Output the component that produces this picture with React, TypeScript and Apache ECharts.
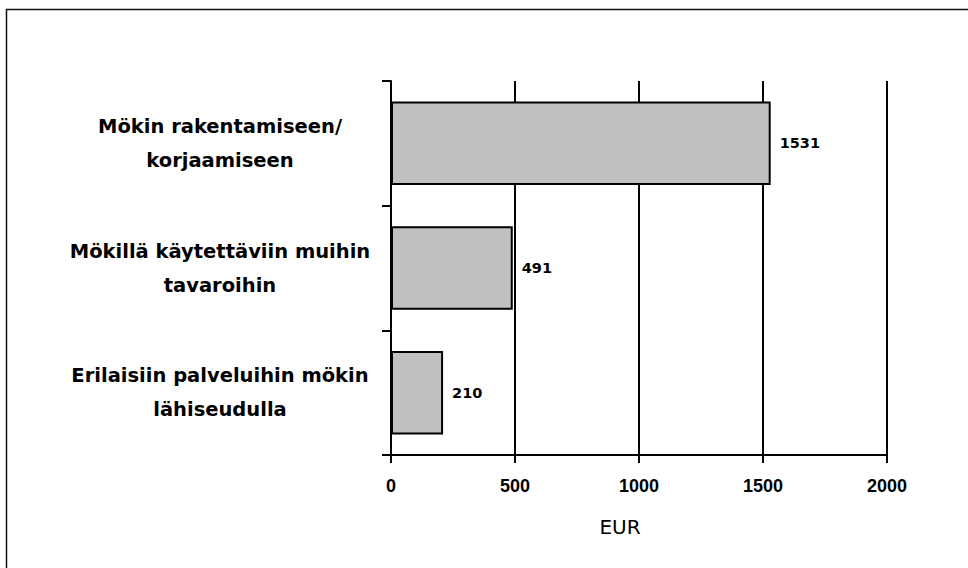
import React, { useEffect, useRef } from "react";
import * as echarts from "echarts";

const categories = [
  "Mökin rakentamiseen/\nkorjaamiseen",
  "Mökillä käytettäviin muihin\ntavaroihin",
  "Erilaisiin palveluihin mökin\nlähiseudulla",
];
const values = [1531, 491, 210];
const xTicks = { min: 0, max: 2000, interval: 500 };
const axisName = "EUR";

export default function App() {
  const ref = useRef<HTMLDivElement>(null);
  useEffect(() => {
    if (!ref.current) return;
    const chart = echarts.init(ref.current, null, { renderer: "svg" });
    chart.setOption({
      animation: false,
      backgroundColor: "#ffffff",
      graphic: [
        {
          type: "rect",
          shape: { x: 6.5, y: 9.5, width: 1200, height: 1200 },
          style: { fill: "none", stroke: "#111", lineWidth: 1.5 },
        },
        {
          type: "text",
          x: 620,
          y: 527,
          style: {
            text: axisName,
            fontFamily: "'Comic Sans MS', 'DejaVu Sans', sans-serif",
            fontSize: 20,
            fill: "#000",
            align: "center",
            verticalAlign: "middle",
          },
        },
      ],
      grid: { left: 391, right: 81, top: 81, bottom: 113, containLabel: false },
      xAxis: {
        type: "value",
        min: xTicks.min,
        max: xTicks.max,
        interval: xTicks.interval,
        axisLine: { show: true, lineStyle: { color: "#000", width: 2 } },
        axisTick: { show: true, length: 8, lineStyle: { color: "#000", width: 2 } },
        splitLine: { show: true, lineStyle: { color: "#000", width: 2 } },
        axisLabel: {
          margin: 22,
          color: "#000",
          fontFamily: "'Liberation Sans', Arial, sans-serif",
          fontWeight: "bold",
          fontSize: 18,
          formatter: (v: number) => String(v),
        },
      },
      yAxis: {
        type: "category",
        inverse: true,
        data: categories,
        axisLine: { show: true, lineStyle: { color: "#000", width: 2 } },
        axisTick: { show: true, length: 9, lineStyle: { color: "#000", width: 2 } },
        axisLabel: {
          margin: 171,
          align: "center",
          color: "#000",
          fontFamily: "'Comic Sans MS', 'DejaVu Sans', sans-serif",
          fontWeight: "bold",
          fontSize: 19.5,
          lineHeight: 34,
        },
      },
      series: [
        {
          type: "bar",
          data: values,
          barCategoryGap: "33%",
          itemStyle: { color: "#c0c0c0", borderColor: "#000", borderWidth: 2 },
          label: {
            show: true,
            position: "right",
            distance: 9,
            color: "#000",
            fontFamily: "'DejaVu Sans', Verdana, sans-serif",
            fontWeight: "bold",
            fontSize: 14.5,
          },
        },
      ],
    });
    return () => chart.dispose();
  }, []);
  return (
    <div
      ref={ref}
      style={{ position: "fixed", left: 0, top: 0, width: 968, height: 568 }}
    />
  );
}
